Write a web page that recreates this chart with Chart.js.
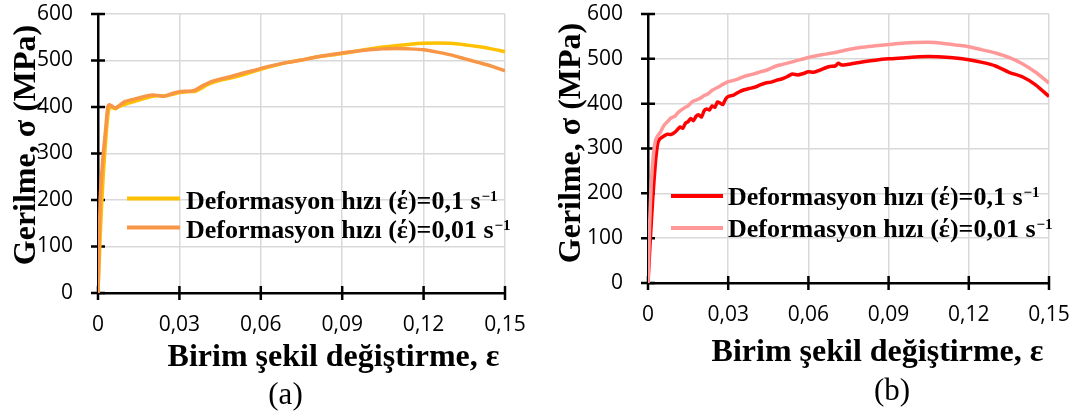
<!DOCTYPE html>
<html>
<head>
<meta charset="utf-8">
<script src="https://cdn.jsdelivr.net/npm/chart.js@4.4.1/dist/chart.umd.min.js"></script>
<style>
  html, body { margin: 0; padding: 0; background: #fff; overflow: hidden; }
  #wrapA { position: absolute; left: 0; top: 0; width: 540px; height: 419px; }
  #wrapB { position: absolute; left: 540px; top: 0; width: 538px; height: 419px; }
  canvas { display: block; }
</style>
</head>
<body>
<div id="wrapA"><canvas id="chartA"></canvas></div>
<div id="wrapB"><canvas id="chartB"></canvas></div>
<script>
// ---------- DATA ----------
const xTicks = [0, 0.03, 0.06, 0.09, 0.12, 0.15];
const yTicks = [0, 100, 200, 300, 400, 500, 600];
const yTitle = 'Gerilme, σ (MPa)';
const xTitle = 'Birim şekil değiştirme, ε';
const labelFast = 'Deformasyon hızı (έ)=0,1 s⁻¹';
const labelSlow = 'Deformasyon hızı (έ)=0,01 s⁻¹';
const captionA = '(a)';
const captionB = '(b)';

// (a) 0.1 s^-1 (yellow)
const aFastX = [0, 0.001, 0.002, 0.003, 0.0038, 0.0045, 0.0055, 0.0065, 0.0075, 0.009, 0.011, 0.013, 0.015, 0.018, 0.020, 0.022, 0.025, 0.028, 0.030, 0.033, 0.036, 0.038, 0.040, 0.043, 0.046, 0.050, 0.055, 0.060, 0.065, 0.070, 0.075, 0.080, 0.085, 0.090, 0.095, 0.100, 0.105, 0.110, 0.115, 0.120, 0.125, 0.130, 0.135, 0.140, 0.145, 0.150];
const aFastY = [0, 150, 260, 340, 390, 400, 398, 396, 400, 404, 408, 411, 415, 420, 423, 424, 424, 428, 431, 433, 434, 440, 447, 454, 459, 464, 472, 481, 489, 496, 501, 507, 511, 515, 520, 525, 529, 532, 535, 537, 537.5, 537, 534, 530, 525, 519];
// (a) 0.01 s^-1 (orange)
const aSlowX = [0, 0.0008, 0.0018, 0.0027, 0.0036, 0.0042, 0.0048, 0.0056, 0.0066, 0.0075, 0.0085, 0.0100, 0.0120, 0.0140, 0.0160, 0.0180, 0.0200, 0.0220, 0.0240, 0.0260, 0.0280, 0.0300, 0.0320, 0.0340, 0.0360, 0.0380, 0.0400, 0.0420, 0.0450, 0.0480, 0.0510, 0.0540, 0.0570, 0.0600, 0.0650, 0.0700, 0.0750, 0.0800, 0.0850, 0.0900, 0.0950, 0.1000, 0.1050, 0.1100, 0.1150, 0.1200, 0.1250, 0.1300, 0.1350, 0.1400, 0.1450, 0.1500];
const aSlowY = [0, 200, 290, 345, 400, 405, 403, 400, 398, 402, 406, 412, 415, 418, 421, 424, 426, 425, 423, 426, 430, 433, 434, 434, 437, 444, 450, 455, 460, 464, 469, 474, 478, 483, 490, 496, 501, 507, 512, 516, 520, 523, 525, 526, 525, 523, 518, 512, 504, 496, 488, 478];

// (b) 0.1 s^-1 (red)
const bFastX = [0, 0.0008, 0.0018, 0.0028, 0.0036, 0.0042, 0.0050, 0.0060, 0.0073, 0.0085, 0.0100, 0.0110, 0.0120, 0.0130, 0.0140, 0.0150, 0.0160, 0.0170, 0.0180, 0.0190, 0.0200, 0.0210, 0.0220, 0.0230, 0.0240, 0.0250, 0.0260, 0.0270, 0.0280, 0.0290, 0.0300, 0.0320, 0.0340, 0.0360, 0.0380, 0.0400, 0.0420, 0.0440, 0.0460, 0.0480, 0.0500, 0.0520, 0.0540, 0.0560, 0.0580, 0.0600, 0.0620, 0.0640, 0.0660, 0.0680, 0.0700, 0.0712, 0.0725, 0.0750, 0.0800, 0.0850, 0.0900, 0.0950, 0.1000, 0.1050, 0.1100, 0.1150, 0.1200, 0.1250, 0.1300, 0.1350, 0.1400, 0.1450, 0.1500];
const bFastY = [0, 90, 190, 270, 310, 320, 324, 328, 332, 331, 336, 342, 348, 345, 356, 360, 367, 362, 372, 375, 370, 384, 388, 386, 395, 392, 404, 401, 398, 410, 416, 419, 426, 431, 434, 437, 442, 446, 448, 452, 455, 460, 466, 464, 467, 471, 470, 474, 479, 483, 484, 490, 486, 488, 493, 497, 500, 502, 504, 505, 504, 502, 498, 492, 484, 470, 460, 442, 416];
// (b) 0.01 s^-1 (pink)
const bSlowX = [0, 0.0006, 0.0012, 0.0020, 0.0028, 0.0036, 0.0046, 0.0060, 0.0073, 0.0086, 0.0100, 0.0111, 0.0125, 0.0140, 0.0150, 0.0165, 0.0180, 0.0195, 0.0210, 0.0225, 0.0240, 0.0260, 0.0280, 0.0300, 0.0320, 0.0340, 0.0360, 0.0380, 0.0400, 0.0420, 0.0440, 0.0460, 0.0480, 0.0500, 0.0550, 0.0600, 0.0650, 0.0700, 0.0750, 0.0800, 0.0850, 0.0900, 0.0950, 0.1000, 0.1050, 0.1100, 0.1150, 0.1200, 0.1250, 0.1300, 0.1350, 0.1400, 0.1450, 0.1500];
const bSlowY = [0, 130, 220, 285, 318, 328, 336, 352, 360, 368, 372, 379, 386, 392, 395, 404, 408, 412, 418, 422, 430, 436, 443, 449, 452, 456, 461, 464, 467, 471, 474, 479, 484, 487, 495, 503, 509, 514, 521, 526, 529, 532, 535, 536.5, 537, 535, 531, 527, 520, 513, 503, 489, 470, 446];

// ---------- HELPERS ----------
const toPts = (xs, ys) => xs.map((x, i) => ({ x: x, y: ys[i] }));
const fmtX = v => (Math.abs(v) < 1e-9 ? '0' : v.toFixed(2).replace('.', ','));

const decorPlugin = {
  id: 'decor',
  beforeDatasetsDraw(chart) {
    const ctx = chart.ctx, xs = chart.scales.x, ys = chart.scales.y;
    const x0 = xs.getPixelForValue(0), y0 = ys.getPixelForValue(0);
    ctx.save();
    ctx.strokeStyle = '#000';
    ctx.lineWidth = 2.5;
    ctx.beginPath();
    yTicks.forEach(v => { const p = ys.getPixelForValue(v); ctx.moveTo(x0 - 7, p); ctx.lineTo(x0 + 7, p); });
    xTicks.forEach(v => { const p = xs.getPixelForValue(v); ctx.moveTo(p, y0 - 7); ctx.lineTo(p, y0 + 7); });
    ctx.stroke();
    ctx.restore();
  },
  afterDraw(chart, args, o) {
    const ctx = chart.ctx;
    ctx.save();
    chart.data.datasets.forEach((ds, i) => {
      const ly = o.legendLineY[i];
      ctx.strokeStyle = ds.borderColor;
      ctx.lineWidth = 4;
      ctx.beginPath();
      ctx.moveTo(o.legendX1, ly); ctx.lineTo(o.legendX2, ly); ctx.stroke();
      const parts = ds.label.split('⁻¹');
      ctx.fillStyle = '#000';
      ctx.textAlign = 'left';
      ctx.textBaseline = 'alphabetic';
      ctx.font = 'bold 26px "Liberation Serif"';
      const by = o.legendBaseY[i];
      ctx.fillText(parts[0], o.legendTextX, by);
      const w = ctx.measureText(parts[0]).width;
      ctx.font = 'bold 15px "Liberation Serif"';
      ctx.fillText('−1', o.legendTextX + w + 1, by - 8);
    });
    o.texts.forEach(t => {
      ctx.save();
      ctx.translate(t.x, t.y);
      if (t.rot) ctx.rotate(t.rot);
      ctx.font = t.font;
      ctx.fillStyle = '#000';
      ctx.textAlign = 'center';
      ctx.textBaseline = 'alphabetic';
      ctx.fillText(t.text, 0, 0);
      ctx.restore();
    });
    ctx.restore();
  }
};

function makeChart(id, datasets, dims, decor) {
  return new Chart(document.getElementById(id), {
    type: 'line',
    data: { datasets: datasets },
    plugins: [decorPlugin],
    options: {
      responsive: true,
      maintainAspectRatio: false,
      animation: false,
      layout: { padding: { top: dims.top, right: dims.right, left: 0, bottom: 0 } },
      plugins: { legend: { display: false }, tooltip: { enabled: false }, decor: decor },
      elements: { point: { radius: 0 }, line: { tension: 0.2, borderWidth: 3.5 } },
      scales: {
        x: {
          type: 'linear', min: 0, max: 0.15,
          afterBuildTicks: s => { s.ticks = xTicks.map(v => ({ value: v })); },
          afterFit: s => { s.height = dims.xHeight; s.paddingLeft = 0; s.paddingRight = 0; },
          grid: { color: '#d9d9d9', lineWidth: 1.5, drawTicks: false },
          border: { color: '#000', width: 2.5 },
          ticks: { padding: 19, color: '#000', font: { family: 'Open Sans', size: 21 }, maxRotation: 0, callback: v => fmtX(v) }
        },
        y: {
          type: 'linear', min: 0, max: 600,
          afterBuildTicks: s => { s.ticks = yTicks.map(v => ({ value: v })); },
          afterFit: s => { s.width = dims.yWidth; s.paddingTop = 0; s.paddingBottom = 0; },
          grid: { color: '#d9d9d9', lineWidth: 1.5, drawTicks: false },
          border: { color: '#000', width: 2.5 },
          ticks: { padding: 25, color: '#000', font: { family: 'Open Sans', size: 21 }, callback: v => String(v) }
        }
      }
    }
  });
}

makeChart('chartA', [
  { label: labelFast, data: toPts(aFastX, aFastY), borderColor: '#FFC000', backgroundColor: '#FFC000', order: 1 },
  { label: labelSlow, data: toPts(aSlowX, aSlowY), borderColor: '#F79646', backgroundColor: '#F79646', order: 0 }
], { top: 14, right: 35, xHeight: 126, yWidth: 98 }, {
  legendX1: 127, legendX2: 180, legendTextX: 186,
  legendLineY: [198.5, 227.5], legendBaseY: [209, 238],
  texts: [
    { text: yTitle, x: 35, y: 145, rot: -Math.PI / 2, font: 'bold 32px "Liberation Serif"' },
    { text: xTitle, x: 333.5, y: 366, font: 'bold 32px "Liberation Serif"' },
    { text: captionA, x: 285.5, y: 404, font: '31px "Liberation Serif"' }
  ]
});

makeChart('chartB', [
  { label: labelFast, data: toPts(bFastX, bFastY), borderColor: '#FF0000', backgroundColor: '#FF0000', order: 1 },
  { label: labelSlow, data: toPts(bSlowX, bSlowY), borderColor: '#FF9999', backgroundColor: '#FF9999', order: 0 }
], { top: 14, right: 29, xHeight: 136, yWidth: 108 }, {
  legendX1: 131, legendX2: 183, legendTextX: 188,
  legendLineY: [196, 228], legendBaseY: [205, 237],
  texts: [
    { text: yTitle, x: 40, y: 143, rot: -Math.PI / 2, font: 'bold 32px "Liberation Serif"' },
    { text: xTitle, x: 337.5, y: 361, font: 'bold 32px "Liberation Serif"' },
    { text: captionB, x: 352, y: 400, font: '31px "Liberation Serif"' }
  ]
});
</script>
</body>
</html>
